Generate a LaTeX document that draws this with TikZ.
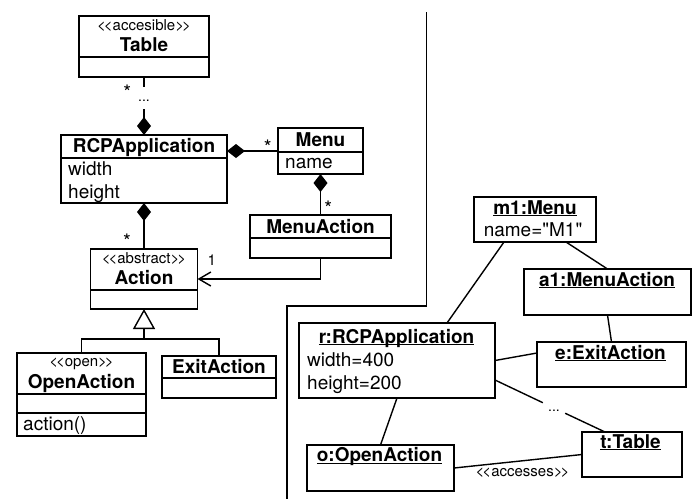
\documentclass[tikz,border=0pt]{standalone}
\usepackage{fontspec}
\setmainfont{TeX Gyre Heros}
\newfontfamily\heros{TeX Gyre Heros}
\usetikzlibrary{arrows.meta}

\newcommand{\objul}[1]{\setbox0\hbox{#1}\rlap{\rule[-2.2pt]{\wd0}{1.3pt}}\box0}
\newcommand{\stereotype}[1]{<\kern-2pt<#1>\kern-2pt>}

\begin{document}
\begin{tikzpicture}[x=1pt,y=-1pt,
  box/.style={draw,line width=1.6pt,inner sep=0pt,outer sep=0pt},
  heading/.style={font=\heros\fontsize{19}{22}\selectfont\bfseries,inner sep=0pt,anchor=base},
  attr/.style={font=\heros\fontsize{19}{22}\selectfont,inner sep=0pt,anchor=base west},
  value/.style={attr,anchor=base},
  stereo/.style={font=\heros\fontsize{15}{17}\selectfont,inner sep=0pt,anchor=base},
  mult/.style={font=\heros\fontsize{20}{22}\selectfont,inner sep=0pt,anchor=base},
  gap/.style={font=\heros\fontsize{14}{16}\selectfont,inner sep=0pt,text height=7pt,text depth=0pt},
  link/.style={line width=1.4pt},
  comp/.style={link,{Diamond[length=18pt,width=14pt]}-}]
\useasboundingbox (0,0) rectangle (699,499);

% class diagram
\node[box,minimum width=130,minimum height=61] (table) at (144,46.5) {};
\draw[box] (79,57) -- (209,57);
\node[stereo] (table-st) at (144,30.5) {\stereotype{accesible}};
\node[heading] (table-nm) at (144,51) {Table};

\node[box,minimum width=166,minimum height=68] (rcp) at (144,169) {};
\draw[box] (61,158) -- (227,158);
\node[heading] (rcp-nm) at (144,152) {RCPApplication};
\node[attr] (rcp-w) at (68,175) {width};
\node[attr] (rcp-h) at (68,198) {height};

\node[box,minimum width=85,minimum height=46] (menu) at (320.5,151) {};
\draw[box] (278,152) -- (363,152);
\node[heading] (menu-nm) at (320.5,146) {Menu};
\node[attr] (menu-n) at (285,168) {name};

\node[box,minimum width=141,minimum height=43] (menuact) at (320.5,236.5) {};
\draw[box] (250,238) -- (391,238);
\node[heading] (menuact-nm) at (320.5,233) {MenuAction};

\node[box,minimum width=107,minimum height=60] (action) at (144,279) {};
\draw[box] (90.5,290) -- (197.5,290);
\node[stereo] (action-st) at (144,263) {\stereotype{abstract}};
\node[heading] (action-nm) at (144,284) {Action};

\node[box,minimum width=129,minimum height=83] (openact) at (81.5,394.5) {};
\draw[box] (17,394) -- (146,394);
\draw[box] (17,413) -- (146,413);
\node[stereo] (openact-st) at (81.5,366) {\stereotype{open}};
\node[heading] (openact-nm) at (81.5,388) {OpenAction};
\node[attr] (openact-op) at (23,430) {action()};

\node[box,minimum width=114,minimum height=42] (exitact) at (219,377) {};
\draw[box] (162,378) -- (276,378);
\node[heading] (exitact-nm) at (219,373) {ExitAction};

\node[gap,minimum width=14,minimum height=22] (gap1) at (144,98) {...};
\draw[comp] (rcp.north) -- (gap1.south);
\draw[link] (gap1.north) -- (table.south);
\node[mult] (table-m) at (127.3,99.8) {*};

\draw[comp] (rcp.east |- menu.west) -- (menu.west);
\node[mult] (menu-m) at (267.7,154.8) {*};

\draw[comp] (menu.south) -- (menuact.north);
\node[mult] (menuact-m) at (328.3,215.2) {*};

\draw[link,-{Straight Barb[length=12pt,width=14pt]}] (menuact.south) |- (action.east);
\node[stereo] (action-m) at (211.7,265.6) {1};

\draw[comp] (rcp.south) -- (action.north);
\node[mult] (action-m2) at (127,248.2) {*};

\coordinate (fork) at (144,339);
\draw[link,-{Triangle[open,length=20pt,width=22pt]}] (fork) -- (action.south);
\draw[link] (openact.north) |- (fork) -| (exitact.north);

% separator
\draw[link] (426.5,12) -- (426.5,306) -- (287,306) -- (287,499);

% object diagram
\node[box,minimum width=122,minimum height=45] (m1) at (535,219.5) {};
\node[heading] (m1-nm) at (535,214) {\objul{m1:Menu}};
\node[value] (m1-n) at (533,236.7) {name="M1"};

\node[box,minimum width=167,minimum height=46] (a1) at (607.5,292) {};
\node[heading] (a1-nm) at (607,286) {\objul{a1:MenuAction}};

\node[box,minimum width=196,minimum height=75] (r) at (397,360.5) {};
\node[heading] (r-nm) at (396.5,343) {\objul{r:RCPApplication}};
\node[attr] (r-w) at (307,366) {width=400};
\node[attr] (r-h) at (307,389) {height=200};

\node[box,minimum width=149,minimum height=45] (e) at (611.5,364.5) {};
\node[heading] (e-nm) at (610.5,359) {\objul{e:ExitAction}};

\node[box,minimum width=147,minimum height=46] (o) at (380.5,468) {};
\node[heading] (o-nm) at (379.5,461.7) {\objul{o:OpenAction}};

\node[box,minimum width=100,minimum height=45] (t) at (632,454.5) {};
\node[heading] (t-nm) at (630.5,448) {\objul{t:Table}};

\draw[link] ([xshift=-31]m1.south) -- ([xshift=50]r.north);
\draw[link] ([xshift=31]m1.south) -- (a1.north);
\draw[link] (a1.south) -- (e.north);
\draw[link] (r.east) -- ([yshift=11.5]e.west);
\draw[link] (r.south) -- (o.north);
\node[gap,minimum width=22,minimum height=12] (gap2) at (554,408) {...};
\draw[link] ([yshift=-19.5]r.east) -- (gap2);
\draw[link] (gap2) -- ([xshift=-27]t.north);
\draw[link] (o.east) -- (t.west);
\node[stereo] (acc) at (522.5,476.5) {\stereotype{accesses}};
\end{tikzpicture}
\end{document}
